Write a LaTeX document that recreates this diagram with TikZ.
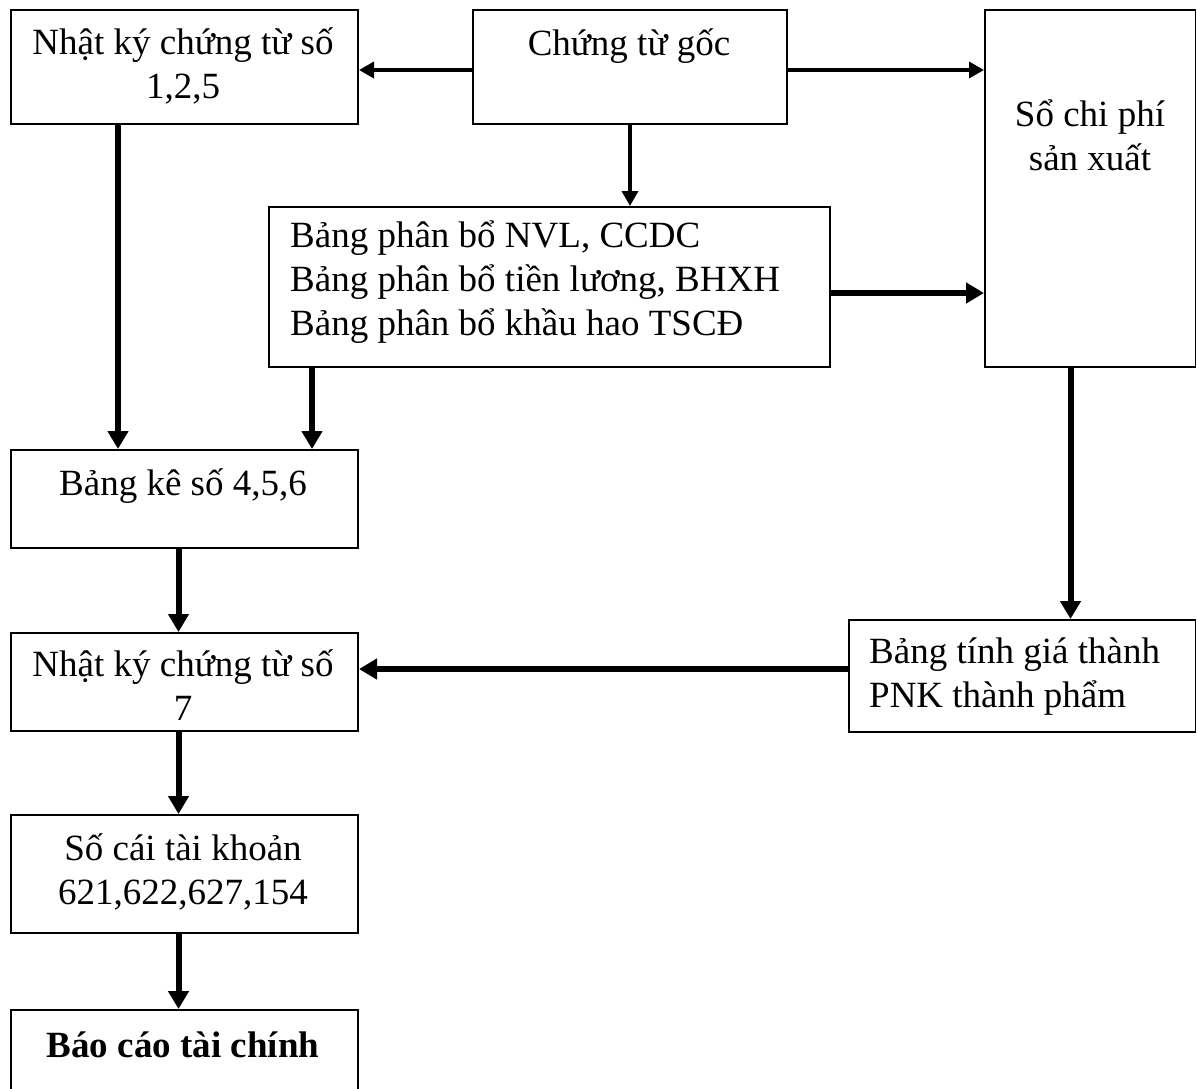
\documentclass[tikz,border=0pt]{standalone}
\usepackage{fontspec}
\setmainfont{Liberation Serif}
\usetikzlibrary{arrows.meta}
\begin{document}
\begin{tikzpicture}[x=1pt,y=-1pt,
  box/.style={draw,line width=2pt,rectangle,inner sep=0pt,anchor=north west},
  txt/.style={font=\fontsize{37}{44}\selectfont,inner sep=0pt,anchor=base,align=center},
  txtl/.style={font=\fontsize{37}{44}\selectfont,inner sep=0pt,anchor=base west,align=left},
  thin/.style={line width=3.5pt,-{Triangle[length=15pt,width=16pt]}},
  thick/.style={line width=6pt,-{Triangle[length=18pt,width=20pt]}}]
\useasboundingbox (0,0) rectangle (1196,1088);

% boxes
\node[box,minimum width=347pt,minimum height=114pt] (nk1) at (10,9) {};
\node[box,minimum width=314pt,minimum height=114pt] (ctg) at (472,9) {};
\node[box,minimum width=211pt,minimum height=357pt] (scp) at (984,9) {};
\node[box,minimum width=561pt,minimum height=160pt] (bpb) at (268,206) {};
\node[box,minimum width=347pt,minimum height=98pt]  (bk)  at (10,449) {};
\node[box,minimum width=347pt,minimum height=98pt]  (nk7) at (10,632) {};
\node[box,minimum width=347pt,minimum height=112pt] (bt)  at (848,619) {};
\node[box,minimum width=347pt,minimum height=118pt] (sc)  at (10,814) {};
\node[box,minimum width=347pt,minimum height=100pt] (bc)  at (10,1009) {};

% texts (multi-line nodes sit on the baseline of their last line)
\node[txt] (t1) at (183,98) {Nhật ký chứng từ số\\1,2,5};
\node[txt] (t2) at (629,55) {Chứng từ gốc};
\node[txt] (t3) at (1090,170) {Sổ chi phí\\sản xuất};
\node[txtl] (t4) at (290,335) {Bảng phân bổ NVL, CCDC\\Bảng phân bổ tiền lương, BHXH\\Bảng phân bổ khầu hao TSCĐ};
\node[txt] (t5) at (183,495) {Bảng kê số 4,5,6};
\node[txt] (t6) at (183,720) {Nhật ký chứng từ số\\7};
\node[txtl] (t7) at (869,707) {Bảng tính giá thành\\PNK thành phẩm};
\node[txt] (t8) at (183,904) {Số cái tài khoản\\621,622,627,154};
\node[txt,font=\fontsize{37}{44}\selectfont\bfseries] (t9) at (183,1057) {Báo cáo tài chính};

% connector anchor points
\coordinate (a1) at ([yshift=-3pt]ctg.east);
\coordinate (b1) at ([yshift=-3pt]ctg.west);
\coordinate (a2) at ([yshift=-6pt]bpb.east);
\coordinate (a3) at ([xshift=108pt]nk1.south west);
\coordinate (a4) at ([xshift=44pt]bpb.south west);
\coordinate (a5) at ([xshift=-6pt]bk.south);
\coordinate (a6) at ([xshift=-20pt]scp.south);
\coordinate (a7) at ([yshift=7pt]bt.west);

% connectors
\draw[thin] (b1) -- (b1 -| nk1.east);
\draw[thin] (a1) -- (a1 -| scp.west);
\draw[thin] (ctg.south) -- (ctg.south |- bpb.north);
\draw[thick] (a2) -- (a2 -| scp.west);
\draw[thick] (a3) -- (a3 |- bk.north);
\draw[thick] (a4) -- (a4 |- bk.north);
\draw[thick] (a5) -- (a5 |- nk7.north);
\draw[thick] (a6) -- (a6 |- bt.north);
\draw[thick] (a7) -- (a7 -| nk7.east);
\draw[thick] (a5 |- nk7.south) -- (a5 |- sc.north);
\draw[thick] (a5 |- sc.south) -- (a5 |- bc.north);
\end{tikzpicture}
\end{document}
